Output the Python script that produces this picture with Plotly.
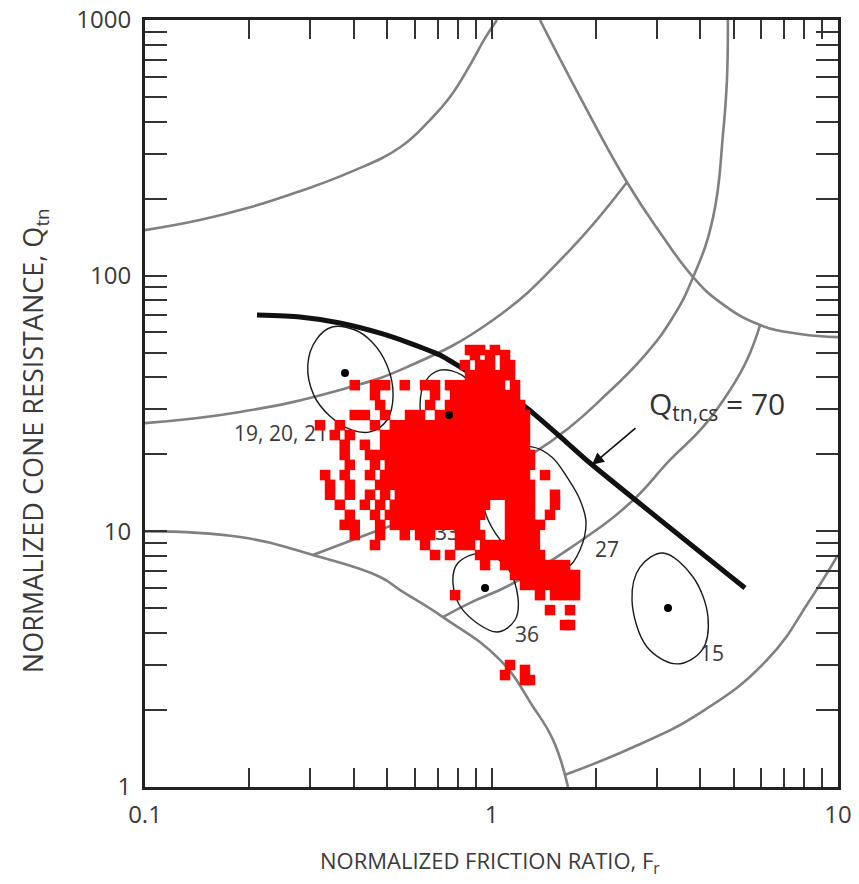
import math
import plotly.graph_objects as go

# ---------------- data (Fr in %, Qtn) ----------------
# SBT zone boundaries (gray curves)
curve_a_fr = [0.1, 0.144, 0.201, 0.280, 0.391, 0.545, 0.664, 0.759, 0.867, 0.958, 1.037]
curve_a_q = [150.7, 165, 185, 214, 254, 318, 406, 500, 666, 849, 1000]

curve_b_fr = [1.380, 1.80, 2.46, 3.06, 3.82, 4.56, 5.96, 7.77, 10.0]
curve_b_q = [1000, 500, 232, 148, 98.7, 78.8, 64.1, 59.1, 57.5]

curve_c_fr = [4.81, 4.78, 4.66, 4.36, 3.82, 3.34, 2.773, 2.06, 1.685, 1.334, 0.867, 0.593, 0.426, 0.305]
curve_c_q = [1000, 582, 361, 169, 98.7, 68.9, 48.9, 32.6, 25.6, 20.4, 15.1, 11.4, 9.59, 8.08]

curve_d_fr = [0.1, 0.188, 0.365, 0.570, 1.01, 1.652, 2.46]
curve_d_q = [26.5, 29.3, 35.7, 43.9, 67.1, 122.6, 232]

curve_f_fr = [0.724, 0.867, 1.131, 1.686, 2.51, 3.27, 4.08, 4.88, 5.46, 5.96]
curve_f_q = [4.62, 5.25, 6.17, 8.60, 12.9, 19.0, 25.6, 35.7, 46.8, 64.1]

curve_g_fr = [0.1, 0.188, 0.305, 0.477, 0.545, 0.724, 1.058, 1.318, 1.505, 1.663]
curve_g_q = [10.0, 9.5, 8.08, 6.63, 5.89, 4.62, 3.14, 2.06, 1.53, 1.0]

curve_h_fr = [1.64, 2.56, 4.00, 6.24, 8.30, 10.0]
curve_h_q = [1.12, 1.43, 1.95, 3.14, 5.39, 8.08]

# Qtn,cs = 70 line
cs70_fr = [0.2105, 0.280, 0.365, 0.477, 0.570, 0.710, 0.867, 1.233, 1.652, 1.924, 5.39]
cs70_q = [70.1, 68.9, 65.3, 59.6, 55.0, 48.9, 41.6, 31.2, 22.2, 18.5, 6.0]

# case-history ellipses (outline points) and centres
ell_1921_fr = [0.3465, 0.404, 0.452, 0.499, 0.520, 0.499, 0.446, 0.396, 0.342, 0.307, 0.295, 0.3115, 0.3465]
ell_1921_q = [63.0, 61.3, 55.0, 44.7, 34.1, 27.2, 24.5, 24.9, 28.2, 34.1, 44.7, 56.0, 63.0]

ell_33_fr = [0.710, 0.822, 0.914, 0.939, 0.878, 0.785, 0.696, 0.643, 0.622, 0.643, 0.710]
ell_33_q = [42.7, 40.8, 34.1, 26.0, 20.4, 18.7, 19.9, 23.8, 31.2, 38.4, 42.7]

ell_27_fr = [1.309, 1.495, 1.652, 1.800, 1.874, 1.800, 1.663, 1.456, 1.249, 1.094, 0.977, 0.945, 0.977, 1.094, 1.309]
ell_27_q = [21.4, 19.5, 16.3, 13.3, 10.8, 8.45, 7.25, 7.19, 7.86, 8.84, 11.1, 13.3, 17.4, 20.4, 21.4]

ell_36_fr = [0.945, 1.108, 1.192, 1.169, 1.037, 0.827, 0.774, 0.800, 0.945]
ell_36_q = [8.23, 7.25, 5.53, 4.50, 4.04, 4.92, 6.28, 7.52, 8.23]

ell_15_fr = [3.126, 3.815, 4.215, 4.051, 3.431, 2.811, 2.544, 2.683, 3.126]
ell_15_q = [8.23, 6.63, 4.62, 3.43, 3.03, 3.53, 5.39, 7.25, 8.23]

centre_fr = [0.3777, 0.754, 0.958, 3.232]
centre_q = [41.6, 28.5, 6.00, 5.01]

# ellipse labels
label_text = ["19, 20, 21", "33", "27", "36", "15"]
label_fr = [0.2469, 0.744, 2.154, 1.266, 4.328]
label_q = [23.6, 9.67, 8.30, 3.86, 3.25]

# measured data (rows: Qtn, list of Fr)
red_rows = [
    (51.2, [0.867, 0.927, 1.023]),
    (48.9, [0.896, 0.990, 1.094]),
    (44.7, [0.838, 0.927, 0.990, 1.094, 1.131]),
    (40.8, [0.867, 0.927, 0.990, 1.058, 1.131]),
    (37.3, [0.403, 0.461, 0.493, 0.562, 0.643, 0.687, 0.759, 0.811, 0.867, 0.927, 0.990, 1.058, 1.169]),
    (34.1, [0.461, 0.687, 0.785, 0.838, 0.896, 0.958, 1.023, 1.094, 1.169]),
    (31.2, [0.477, 0.665, 0.759, 0.811, 0.867, 0.927, 0.990, 1.058, 1.131, 1.209]),
    (28.5, [0.403, 0.431, 0.493, 0.582, 0.622, 0.710, 0.759, 0.811, 0.867, 0.927, 0.990, 1.058, 1.131, 1.209, 1.249]),
    (26.0, [0.320, 0.365, 0.461, 0.526, 0.562, 0.601, 0.643, 0.687, 0.734, 0.785, 0.838, 0.896, 0.958, 1.023, 1.094, 1.169, 1.249]),
    (23.8, [0.353, 0.390, 0.493, 0.526, 0.562, 0.601, 0.643, 0.687, 0.734, 0.785, 0.838, 0.896, 0.958, 1.023, 1.094, 1.169, 1.249]),
    (21.8, [0.377, 0.431, 0.493, 0.526, 0.562, 0.601, 0.643, 0.687, 0.734, 0.785, 0.838, 0.896, 0.958, 1.023, 1.094, 1.169, 1.249]),
    (19.9, [0.377, 0.446, 0.477, 0.509, 0.544, 0.582, 0.622, 0.665, 0.710, 0.759, 0.811, 0.867, 0.927, 0.990, 1.058, 1.131, 1.209, 1.291]),
    (18.2, [0.390, 0.461, 0.509, 0.544, 0.582, 0.622, 0.665, 0.710, 0.759, 0.811, 0.867, 0.927, 0.990, 1.058, 1.131, 1.209, 1.291]),
    (16.6, [0.331, 0.377, 0.446, 0.493, 0.526, 0.562, 0.601, 0.643, 0.687, 0.734, 0.785, 0.838, 0.896, 0.958, 1.023, 1.094, 1.169, 1.249, 1.427]),
    (15.2, [0.342, 0.390, 0.477, 0.509, 0.544, 0.582, 0.622, 0.665, 0.710, 0.759, 0.811, 0.867, 0.927, 0.990, 1.058, 1.131, 1.209, 1.291]),
    (13.9, [0.342, 0.390, 0.446, 0.493, 0.544, 0.582, 0.622, 0.665, 0.710, 0.759, 0.811, 0.867, 0.927, 0.990, 1.058, 1.131, 1.209, 1.291, 1.525]),
    (12.7, [0.365, 0.431, 0.477, 0.526, 0.562, 0.601, 0.643, 0.687, 0.734, 0.785, 0.838, 0.896, 0.958, 1.131, 1.209, 1.291, 1.525]),
    (11.6, [0.390, 0.461, 0.509, 0.544, 0.582, 0.622, 0.665, 0.710, 0.759, 0.811, 0.867, 0.927, 1.131, 1.209, 1.291, 1.475]),
    (10.6, [0.377, 0.403, 0.477, 0.526, 0.562, 0.601, 0.643, 0.687, 0.734, 0.785, 0.838, 0.896, 1.131, 1.209, 1.291, 1.380]),
    (9.67, [0.403, 0.477, 0.562, 0.622, 0.665, 0.811, 0.867, 0.927, 1.131, 1.209, 1.291, 1.334]),
    (8.84, [0.461, 0.643, 0.811, 0.867, 0.958, 1.023, 1.094, 1.169, 1.249, 1.334]),
    (8.08, [0.687, 0.759, 0.927, 0.990, 1.058, 1.131, 1.209, 1.291, 1.380]),
    (7.38, [0.958, 1.094, 1.169, 1.249, 1.334, 1.427, 1.525, 1.630]),
    (6.75, [1.169, 1.249, 1.334, 1.427, 1.525, 1.630, 1.742]),
    (6.17, [1.249, 1.334, 1.427, 1.525, 1.630, 1.742]),
    (5.63, [0.785, 1.380, 1.525, 1.630, 1.742]),
    (4.92, [1.475, 1.685]),
    (4.30, [1.630, 1.685]),
    (3.00, [1.131]),
    (2.87, [1.249]),
    (2.74, [1.094]),
    (2.62, [1.249, 1.291]),
]

# arrow for the Qtn,cs label (head point)
arrow_head_fr, arrow_head_q = 1.95, 18.2
cs_label_fr, cs_label_q = 4.48, 31.2

x_tickvals = [0.1, 0.2, 0.3, 0.4, 0.5, 0.6, 0.7, 0.8, 0.9,
              1, 2, 3, 4, 5, 6, 7, 8, 9, 10]
x_ticktext = ["0.1"] + [""] * 8 + ["1"] + [""] * 8 + ["10"]
y_tickvals = [1, 2, 3, 4, 5, 6, 7, 8, 9,
              10, 20, 30, 40, 50, 60, 70, 80, 90,
              100, 200, 300, 400, 500, 600, 700, 800, 900, 1000]
y_ticktext = ["1"] + [""] * 8 + ["10"] + [""] * 8 + ["100"] + [""] * 8 + ["1000"]

# ---------------- figure ----------------
FONT = "Open Sans, Liberation Sans, sans-serif"
GRAY = "#808080"
fig = go.Figure()

for fx, fy in [(curve_a_fr, curve_a_q), (curve_b_fr, curve_b_q), (curve_c_fr, curve_c_q),
               (curve_d_fr, curve_d_q), (curve_f_fr, curve_f_q), (curve_g_fr, curve_g_q),
               (curve_h_fr, curve_h_q)]:
    fig.add_trace(go.Scatter(x=fx, y=fy, mode="lines",
                             line=dict(color=GRAY, width=2.6, shape="spline", smoothing=1.3),
                             hoverinfo="skip"))

fig.add_trace(go.Scatter(x=cs70_fr, y=cs70_q, mode="lines",
                         line=dict(color="#111111", width=5, shape="spline", smoothing=0.6),
                         hoverinfo="skip"))

for ex, ey in [(ell_1921_fr, ell_1921_q), (ell_33_fr, ell_33_q), (ell_27_fr, ell_27_q),
               (ell_36_fr, ell_36_q), (ell_15_fr, ell_15_q)]:
    fig.add_trace(go.Scatter(x=ex, y=ey, mode="lines",
                             line=dict(color="#1a1a1a", width=1.4, shape="spline", smoothing=1.0),
                             hoverinfo="skip"))

fig.add_trace(go.Scatter(x=label_fr, y=label_q, mode="text", text=label_text,
                         textfont=dict(family=FONT, size=21, color="#3a3a3a"),
                         hoverinfo="skip"))

red_fr = []
red_q = []
for q, frs in red_rows:
    for f in frs:
        red_fr.append(f)
        red_q.append(q)
fig.add_trace(go.Scatter(x=red_fr, y=red_q, mode="markers",
                         marker=dict(symbol="square", size=10.5, color="#ff0000",
                                     line=dict(width=0))))

fig.add_trace(go.Scatter(x=centre_fr, y=centre_q, mode="markers",
                         marker=dict(size=8, color="black")))

axis_common = dict(type="log", ticks="inside", tickwidth=2, tickcolor="#333333",
                   showline=True, linewidth=3, linecolor="#222222", mirror="allticks",
                   showgrid=False, zeroline=False, automargin=False,
                   tickfont=dict(family=FONT, size=24, color="#3a3a3a"))

fig.update_xaxes(range=[-1, 1], tickvals=x_tickvals, ticktext=x_ticktext, ticklen=19,
                 ticklabelstandoff=4, **axis_common)
fig.update_yaxes(range=[0, 3], tickvals=y_tickvals, ticktext=y_ticktext, ticklen=22,
                 ticklabelstandoff=6, **axis_common)

fig.add_annotation(x=math.log10(arrow_head_fr), y=math.log10(arrow_head_q), xref="x", yref="y",
                   text="", showarrow=True, ax=45, ay=-38, arrowhead=2, arrowsize=1.5,
                   arrowwidth=1.6, arrowcolor="#111111")
fig.add_annotation(x=math.log10(cs_label_fr), y=math.log10(cs_label_q), xref="x", yref="y",
                   text="Q<sub>tn,cs</sub> = 70", showarrow=False,
                   font=dict(family=FONT, size=30, color="#333333"))

fig.add_annotation(x=0.498, y=-0.098, xref="paper", yref="paper",
                   text="NORMALIZED FRICTION RATIO, F<sub>r</sub>", showarrow=False,
                   font=dict(family=FONT, size=22, color="#3a3a3a"), yanchor="middle")
fig.add_annotation(x=-0.159, y=0.452, xref="paper", yref="paper", textangle=-90,
                   text="NORMALIZED CONE RESISTANCE, Q<sub>tn</sub>", showarrow=False,
                   font=dict(family=FONT, size=27, color="#3a3a3a"), xanchor="center")

fig.update_layout(width=859, height=884, margin=dict(l=145, r=21, t=20, b=97),
                  paper_bgcolor="white", plot_bgcolor="white", showlegend=False)

fig.write_html("out.html")
